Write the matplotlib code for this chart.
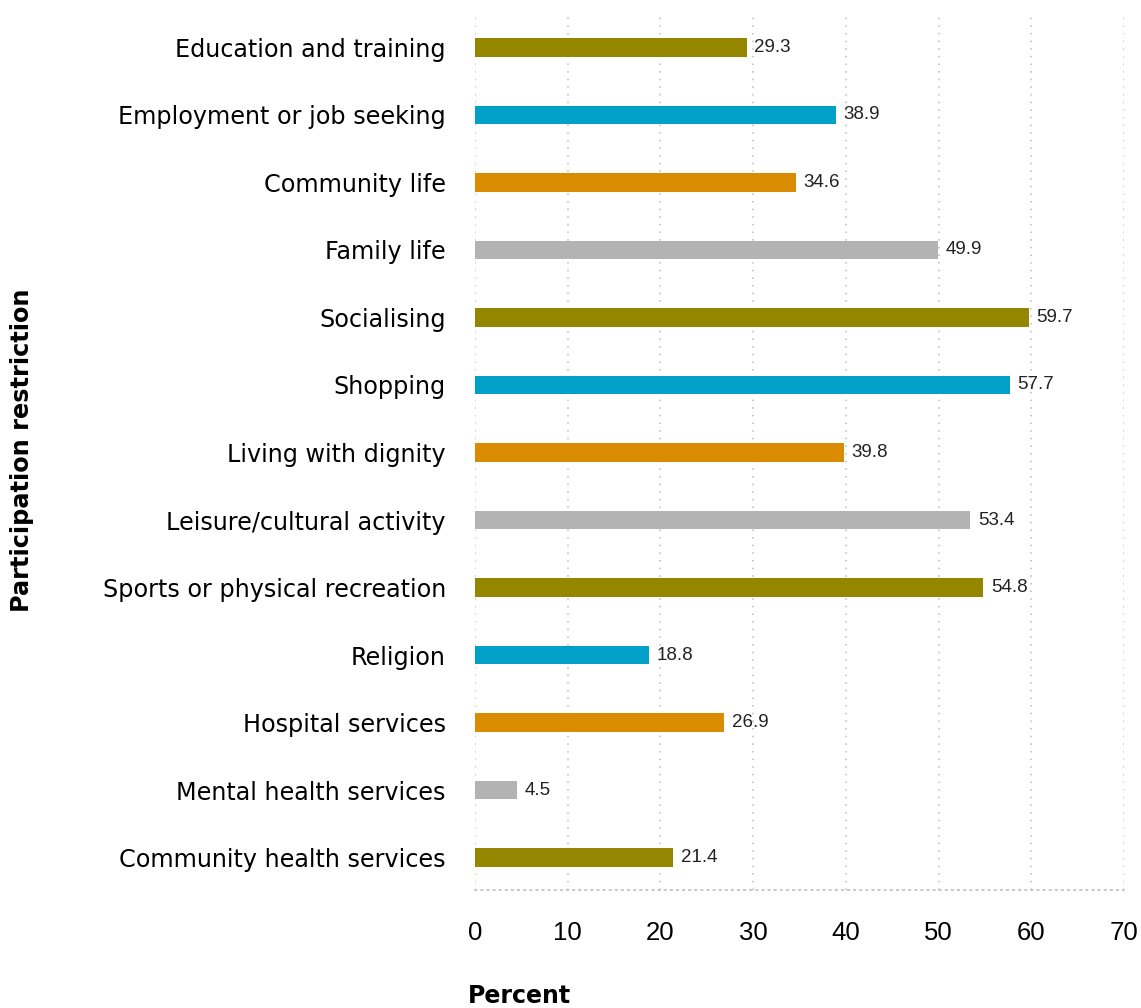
import matplotlib
matplotlib.use("Agg")
import matplotlib.pyplot as plt
import numpy as np

categories = [
    "Education and training",
    "Employment or job seeking",
    "Community life",
    "Family life",
    "Socialising",
    "Shopping",
    "Living with dignity",
    "Leisure/cultural activity",
    "Sports or physical recreation",
    "Religion",
    "Hospital services",
    "Mental health services",
    "Community health services",
]
values = [29.3, 38.9, 34.6, 49.9, 59.7, 57.7, 39.8, 53.4, 54.8, 18.8, 26.9, 4.5, 21.4]
palette = ["#958600", "#00A0C8", "#D98C00", "#B3B3B3"]
x_ticks = [0, 10, 20, 30, 40, 50, 60, 70]

plt.rcParams["font.family"] = ["DejaVu Sans"]

fig = plt.figure(figsize=(11.41, 10.08), dpi=100)
ax = fig.add_axes([475 / 1141, 1 - 890 / 1008, 649 / 1141, 875 / 1008])

y = np.arange(len(categories))
colors = [palette[i % len(palette)] for i in range(len(categories))]
ax.barh(y, values, height=0.27, color=colors, zorder=3)

for yi, v in zip(y, values):
    ax.annotate(f"{v:.1f}", (v, yi), xytext=(5.5, 0), textcoords="offset points",
                va="center", ha="left", fontsize=13.5, color="#222222",
                family=["Liberation Sans", "DejaVu Sans"])

ax.set_xlim(0, 70)
ax.set_ylim(len(categories) - 0.52, -0.48)
ax.set_xticks(x_ticks)
ax.set_xticklabels([str(t) for t in x_ticks],
                   family=["Liberation Sans Narrow", "Liberation Sans", "DejaVu Sans"],
                   fontsize=18.5)
ax.set_yticks(y)
ax.set_yticklabels(categories, fontsize=17.2)
ax.tick_params(axis="y", length=0, pad=21)
ax.tick_params(axis="x", length=0, pad=22)

for t in x_ticks:
    ax.axvline(t, color="#BBBBBB", lw=1.1, linestyle=(0, (1, 4)), zorder=1)

for s in ["top", "right", "left"]:
    ax.spines[s].set_visible(False)
ax.spines["bottom"].set_color("#BBBBBB")
ax.spines["bottom"].set_linestyle((0, (1, 3)))
ax.spines["bottom"].set_linewidth(1.1)

fig.text(468 / 1141, 1 - 996 / 1008, "Percent", fontsize=17, fontweight="bold",
         ha="left", va="center")
fig.text(22 / 1141, 1 - 450 / 1008, "Participation restriction", fontsize=17.3,
         fontweight="bold", rotation=90, ha="center", va="center")

fig.savefig("out.png", dpi=100)
